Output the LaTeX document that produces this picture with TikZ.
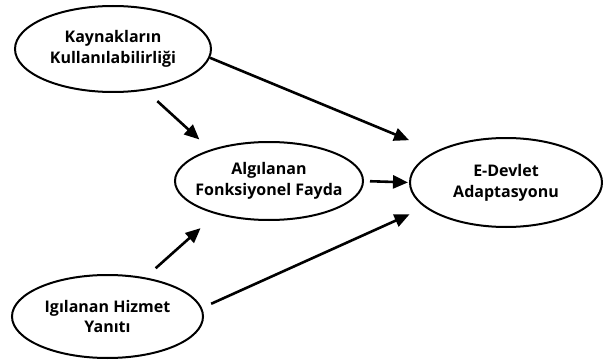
\documentclass[tikz,border=0pt]{standalone}
\usepackage{fontspec}
\setmainfont{Open Sans}[BoldFont=* Bold]
\usetikzlibrary{shapes.geometric,arrows.meta}
\begin{document}
\begin{tikzpicture}[x=1pt,y=-1pt,
  construct/.style={ellipse,draw,line width=2pt,inner xsep=-60pt,inner ysep=-20pt,outer sep=0pt,
    align=center,font=\fontsize{16}{20.7}\selectfont\bfseries},
  link/.style={line width=2.6pt,-{Triangle[length=15pt,width=13pt]}}]
\useasboundingbox (0,0) rectangle (603,361);
\node[construct,minimum width=196pt,minimum height=86pt] (A) at (113,49) {Kaynakların\\Kullanılabilirliği};
\node[construct,minimum width=188pt,minimum height=78pt] (B) at (269,181) {Algılanan\\Fonksiyonel Fayda};
\node[construct,minimum width=192pt,minimum height=89pt] (D) at (506,182.5) {E-Devlet\\Adaptasyonu};
\node[construct,minimum width=191pt,minimum height=83pt] (C) at (107.5,316.5) {Igılanan Hizmet\\Yanıtı};
\draw[link,shorten <=1pt,shorten >=30pt] (A.-5.8) -- (D.156.1);
\draw[link,shorten <=17pt,shorten >=16pt] (A.-52.1) -- (B.152.2);
\draw[link,shorten <=7pt,shorten >=2pt] (B.east) -- (D.west);
\draw[link,shorten <=15pt,shorten >=22pt] (C.46.8) -- (B.212.7);
\draw[link,shorten <=11pt,shorten >=18pt] (C.5.4) -- (D.197.2);
\end{tikzpicture}
\end{document}
